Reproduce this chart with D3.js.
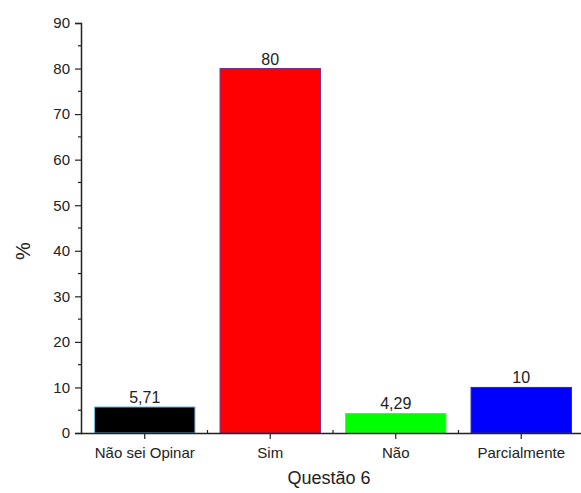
<!DOCTYPE html>
<html>
<head>
<meta charset="utf-8">
<script src="https://cdn.jsdelivr.net/npm/d3@7"></script>
<style>
  body { margin: 0; background: #fff; }
  text { font-family: "Liberation Sans", Arial, sans-serif; fill: #222; }
</style>
</head>
<body>
<div id="chart"></div>
<script>
const categories = ["Não sei Opinar", "Sim", "Não", "Parcialmente"];
const values = [5.71, 80, 4.29, 10];
const valueLabels = ["5,71", "80", "4,29", "10"];
const barColors = ["#000000", "#ff0000", "#00ff00", "#0000ff"];
const barStrokes = ["#6fb8e0", "#7a2a8a", "#66dd66", "#2a2aa0"];
const yTicks = [0, 10, 20, 30, 40, 50, 60, 70, 80, 90];

const width = 581, height = 493;
const margin = {top: 23, left: 81, bottom: 60, right: 0};
const chartH = height - margin.top - margin.bottom;

const svg = d3.select("#chart").append("svg")
  .attr("width", width)
  .attr("height", height);

const x = d3.scaleBand()
  .domain(categories)
  .range([margin.left + 1, margin.left + 1 + 4 * 125.5])
  .paddingInner(0.2)
  .paddingOuter(0.1);

const y = d3.scaleLinear()
  .domain([0, 90])
  .range([margin.top + chartH, margin.top]);

// bars
svg.append("g").selectAll("rect")
  .data(values)
  .enter().append("rect")
  .attr("x", (d, i) => x(categories[i]))
  .attr("y", d => y(d))
  .attr("width", x.bandwidth())
  .attr("height", d => y(0) - y(d))
  .attr("fill", (d, i) => barColors[i])
  .attr("stroke", (d, i) => barStrokes[i])
  .attr("stroke-width", 1);

// value labels
svg.append("g").selectAll("text")
  .data(values)
  .enter().append("text")
  .attr("x", (d, i) => x(categories[i]) + x.bandwidth() / 2)
  .attr("y", d => y(d) - 4)
  .attr("text-anchor", "middle")
  .style("font-size", "16px")
  .text((d, i) => valueLabels[i]);

// y axis
const yAxis = svg.append("g")
  .attr("transform", `translate(${margin.left},0)`)
  .call(d3.axisLeft(y).tickValues(yTicks).tickSize(6).tickPadding(5));
yAxis.select(".domain").attr("stroke", "#222").attr("stroke-width", 1.5);
yAxis.selectAll(".tick line").attr("stroke", "#222").attr("stroke-width", 1.2);
yAxis.selectAll(".tick text").style("font-size", "15px");

// minor y ticks
svg.append("g").selectAll("line")
  .data(d3.range(5, 90, 10))
  .enter().append("line")
  .attr("x1", margin.left - 3)
  .attr("x2", margin.left)
  .attr("y1", d => y(d))
  .attr("y2", d => y(d))
  .attr("stroke", "#222")
  .attr("stroke-width", 1.2);

// x axis
const xAxis = svg.append("g")
  .attr("transform", `translate(0,${y(0)})`)
  .call(d3.axisBottom(x).tickSize(6).tickPadding(8).tickSizeOuter(0));
xAxis.select(".domain").attr("stroke", "#222").attr("stroke-width", 1.5)
  .attr("d", `M${margin.left},0.5H${width}`);
xAxis.selectAll(".tick line").attr("stroke", "#222").attr("stroke-width", 1.2);
xAxis.selectAll(".tick text").style("font-size", "15px");

// boundary ticks between categories
const step = x.step();
svg.append("g").selectAll("line")
  .data(categories.slice(1))
  .enter().append("line")
  .attr("x1", d => x(d) - x.paddingInner() * step / 2)
  .attr("x2", d => x(d) - x.paddingInner() * step / 2)
  .attr("y1", y(0) - 3)
  .attr("y2", y(0))
  .attr("stroke", "#222")
  .attr("stroke-width", 1.2);

// axis titles
svg.append("text")
  .attr("transform", "translate(30,251) rotate(-90)")
  .attr("text-anchor", "middle")
  .style("font-size", "20px")
  .text("%");

svg.append("text")
  .attr("x", 329)
  .attr("y", 484)
  .attr("text-anchor", "middle")
  .style("font-size", "18px")
  .text("Questão 6");
</script>
</body>
</html>
